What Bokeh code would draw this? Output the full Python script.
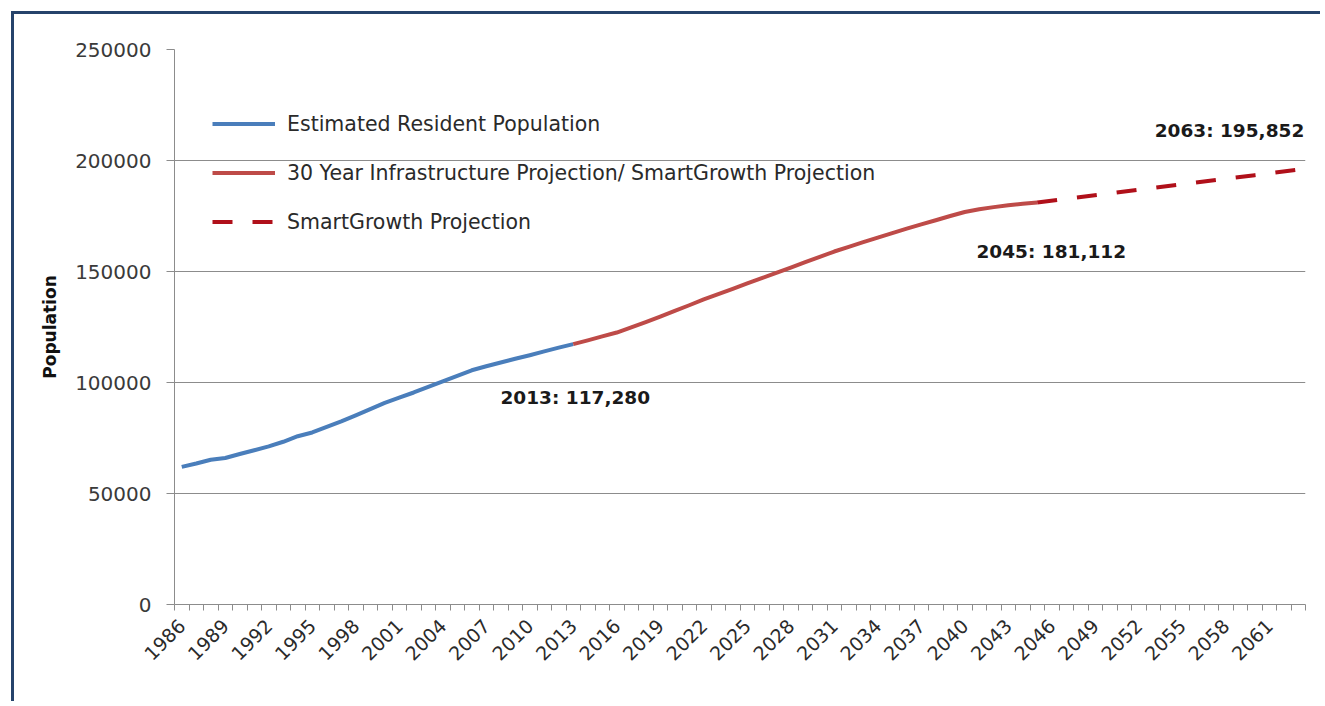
from bokeh.plotting import figure
from bokeh.models import (FixedTicker, Legend, LegendItem, Label,
                          Range1d, CustomJSTickFormatter)
from bokeh.embed import file_html
from bokeh.resources import INLINE

# ---------------- data ----------------
erp_years = list(range(1986, 2014))
erp_values = [62000, 63500, 65200, 66000, 67800, 69500, 71200, 73300, 75800, 77500,
              80000, 82500, 85200, 88000, 90800, 93200, 95500, 98000, 100500, 103000,
              105500, 107300, 109000, 110700, 112300, 114000, 115700, 117280]

infra_years = list(range(2013, 2046))
infra_values = [117280, 119000, 120800, 122500, 124800, 127200, 129700, 132300, 134800,
                137400, 139800, 142200, 144600, 147000, 149400, 151800, 154200, 156600,
                159000, 161100, 163200, 165300, 167300, 169300, 171200, 173100, 175000,
                176800, 178000, 179000, 179800, 180500, 181112]

sg_years = [2045, 2050, 2055, 2060, 2063]
sg_values = [181112, 185200, 189300, 193400, 195852]

tick_years = list(range(1986, 2062, 3))
y_ticks = [0, 50000, 100000, 150000, 200000, 250000]

annotations = [
    ("2013: 117,280", 2013, 117280),
    ("2045: 181,112", 2045, 181112),
    ("2063: 195,852", 2063, 195852),
]

series_names = ["Estimated Resident Population",
                "30 Year Infrastructure Projection/ SmartGrowth Projection",
                "SmartGrowth Projection"]

# ---------------- figure ----------------
W, H = 1309, 690
p = figure(width=W, height=H, output_backend="svg", toolbar_location=None,
           x_range=Range1d(1985.5, 2063.5), y_range=Range1d(0, 250000),
           min_border_left=160, min_border_right=18, min_border_top=35,
           min_border_bottom=100, background_fill_color="white",
           border_fill_color="white", outline_line_color=None)
p.margin = (11, 0, 0, 11)
p.styles = {"border-left": "3px solid #26436b", "border-top": "3px solid #26436b"}

grid_col = "#8c8c8c"
# axes
xa = p.xaxis[0]
xa.ticker = FixedTicker(ticks=tick_years,
                        minor_ticks=[y - 0.5 for y in range(1986, 2065)])
xa.major_tick_out = 0
xa.major_tick_in = 0
xa.minor_tick_out = 6
xa.minor_tick_in = 0
xa.minor_tick_line_color = grid_col
xa.axis_line_color = grid_col
xa.major_label_orientation = 0.785398
xa.major_label_text_font = "DejaVu Sans"
xa.major_label_text_font_size = "19px"
xa.major_label_text_color = "#2a2a2a"
xa.major_label_standoff = 12
xa.formatter = CustomJSTickFormatter(code="return String(tick);")

ya = p.yaxis[0]
ya.ticker = FixedTicker(ticks=y_ticks, minor_ticks=[])
ya.major_tick_out = 8
ya.major_tick_in = 0
ya.major_tick_line_color = grid_col
ya.axis_line_color = grid_col
ya.major_label_text_font = "DejaVu Sans"
ya.major_label_text_font_size = "20px"
ya.major_label_text_color = "#3a3a3a"
ya.major_label_standoff = 15
ya.formatter = CustomJSTickFormatter(code="return String(tick);")
ya.axis_label = "Population"
ya.axis_label_text_font = "DejaVu Sans"
ya.axis_label_text_font_style = "bold"
ya.axis_label_text_font_size = "17px"
ya.axis_label_text_color = "#111111"
ya.axis_label_standoff = 12

p.xgrid.visible = False
p.ygrid.ticker = FixedTicker(ticks=y_ticks)
p.ygrid.grid_line_color = grid_col
p.ygrid.grid_line_width = 1

# ---------------- lines ----------------
r1 = p.line(erp_years, erp_values, line_color="#4a7ebb", line_width=4, line_join="round")
r2 = p.line(infra_years, infra_values, line_color="#be4b48", line_width=4, line_join="round")
r3 = p.line(sg_years, sg_values, line_color="#b0101a", line_width=4, line_dash="20 20")

legend = Legend(items=[LegendItem(label=series_names[0], renderers=[r1]),
                       LegendItem(label=series_names[1], renderers=[r2]),
                       LegendItem(label=series_names[2], renderers=[r3])],
                location=(38, 370), orientation="vertical",
                glyph_width=63, glyph_height=25, label_height=25,
                label_standoff=12, spacing=24, padding=0, margin=0,
                background_fill_alpha=0, border_line_alpha=0,
                label_text_font="DejaVu Sans", label_text_font_size="20.5px",
                label_text_color="#2a2a2a")
p.add_layout(legend, "center")

# ---------------- annotations ----------------
offsets = [(2, -53, "center"), (14, -49, "center"), (6, 39, "right")]
for (txt, xv, yv), (dx, dy, al) in zip(annotations, offsets):
    p.add_layout(Label(x=xv, y=yv, text=txt, x_offset=dx, y_offset=dy,
                       text_align=al, text_baseline="middle",
                       text_font="DejaVu Sans", text_font_style="bold",
                       text_font_size="18.5px", text_color="#1a1a1a"))

open("out.html", "w").write(file_html(p, INLINE))
